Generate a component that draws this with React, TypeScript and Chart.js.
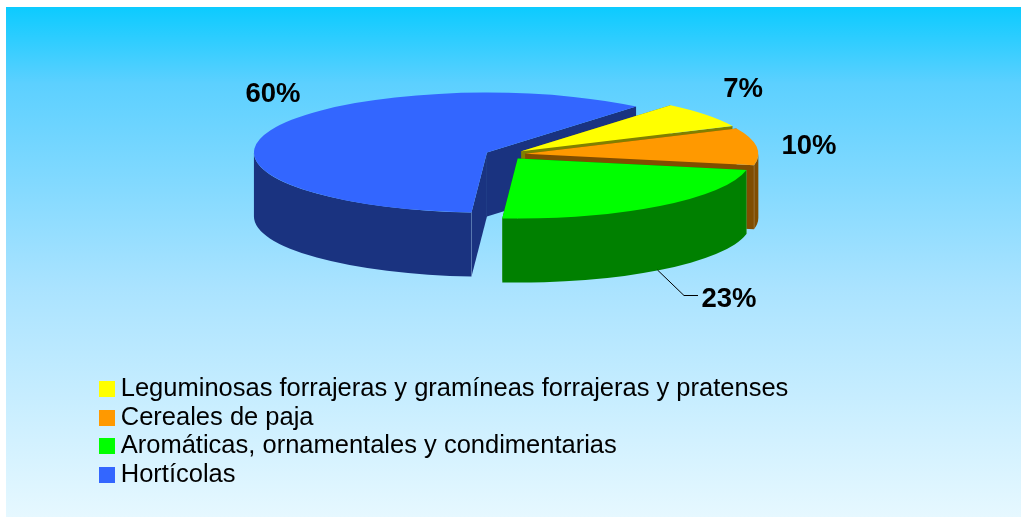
import React, { useEffect, useRef } from "react";
import { Chart, registerables } from "chart.js";

Chart.register(...registerables);

const categories = [
  "Leguminosas forrajeras y gramíneas forrajeras y pratenses",
  "Cereales de paja",
  "Aromáticas, ornamentales y condimentarias",
  "Hortícolas",
];
const shares = [7, 10, 23, 60];
const faceColors = ["#FFFF00", "#FF9900", "#00FF00", "#3366FF"];
const wallColors = ["#808000", "#804D00", "#008000", "#1A3380"];
const labelAnchors = [
  [743, 89],
  [809, 146],
  [729, 299],
  [273, 94],
];

const SQUASH = 60 / 233;
const DEPTH = 64;
const EXPLODE = 20;
const PAINT_ORDER = [3, 0, 1, 2];

// 16px square, right-aligned on a transparent 20px canvas so that the legend's
// gap between swatch and text matches the reference.
function legendSwatch(color: string) {
  const c = document.createElement("canvas");
  c.width = 20;
  c.height = 16;
  const g = c.getContext("2d")!;
  g.fillStyle = color;
  g.fillRect(4, 0, 16, 16);
  return c;
}

const pie3d = {
  id: "pie3d",
  beforeDraw(chart: any) {
    const { ctx } = chart;
    const grad = ctx.createLinearGradient(0, 7, 0, 517);
    grad.addColorStop(0, "#0CCBFF");
    grad.addColorStop(0.15, "#5CD0FF");
    grad.addColorStop(0.55, "#AAE3FF");
    grad.addColorStop(1, "#E6F8FF");
    ctx.save();
    ctx.fillStyle = grad;
    ctx.fillRect(6, 7, 1015, 510);
    ctx.restore();
  },
  afterLayout(chart: any) {
    const l = chart.legend;
    l.left = 98.83;
    l.right = 900;
    l.top = 373.08;
    l.bottom = 517;
  },
  beforeDatasetsDraw(chart: any) {
    const { ctx } = chart;
    const arcs = chart.getDatasetMeta(0).data;
    PAINT_ORDER.forEach((i) => {
      const arc = arcs[i];
      const { x, y, startAngle, endAngle, outerRadius: r } = arc;
      const mid = (startAngle + endAngle) / 2;
      const cx = x + Math.cos(mid) * EXPLODE;
      const cy = y + Math.sin(mid) * EXPLODE * SQUASH;
      const ry = r * SQUASH;
      const px = (t: number) => cx + r * Math.cos(t);
      const py = (t: number) => cy + ry * Math.sin(t);

      ctx.save();
      ctx.fillStyle = wallColors[i];
      [startAngle, endAngle].forEach((t: number) => {
        ctx.beginPath();
        ctx.moveTo(cx, cy);
        ctx.lineTo(px(t), py(t));
        ctx.lineTo(px(t), py(t) + DEPTH);
        ctx.lineTo(cx, cy + DEPTH);
        ctx.closePath();
        ctx.fill();
      });
      // outer wall: only the front half of the rim faces the viewer
      const TAU = Math.PI * 2;
      let a = startAngle;
      let b = endAngle;
      while (b < 0) {
        a += TAU;
        b += TAU;
      }
      const ranges = [
        [a, b],
        [a - TAU, b - TAU],
      ];
      ranges.forEach(([s, e]) => {
        const from = Math.max(s, 0);
        const to = Math.min(e, Math.PI);
        if (to <= from) return;
        ctx.beginPath();
        ctx.ellipse(cx, cy, r, ry, 0, from, to, false);
        ctx.ellipse(cx, cy + DEPTH, r, ry, 0, to, from, true);
        ctx.closePath();
        ctx.fill();
        // seams
        ctx.strokeStyle = "rgba(255,255,255,0.16)";
        ctx.lineWidth = 1;
        [from, to].forEach((t) => {
          if (t === 0 || t === Math.PI) return;
          ctx.beginPath();
          ctx.moveTo(px(t), py(t));
          ctx.lineTo(px(t), py(t) + DEPTH);
          ctx.stroke();
        });
      });
      ctx.restore();

      // top face: the library's own arc element under an elliptical transform
      ctx.save();
      ctx.translate(cx, cy);
      ctx.scale(1, SQUASH);
      ctx.translate(-x, -y);
      arc.draw(ctx);
      ctx.restore();
    });
    return false;
  },
  afterDraw(chart: any) {
    const { ctx } = chart;
    ctx.save();
    ctx.strokeStyle = "#000000";
    ctx.lineWidth = 1;
    ctx.beginPath();
    ctx.moveTo(657.5, 270);
    ctx.lineTo(684, 295.5);
    ctx.lineTo(698, 295.5);
    ctx.stroke();
    ctx.fillStyle = "#000000";
    ctx.font = 'bold 27.5px "Liberation Sans", Arial, sans-serif';
    ctx.textAlign = "center";
    ctx.textBaseline = "middle";
    shares.forEach((v, i) => {
      ctx.fillText(`${v}%`, labelAnchors[i][0], labelAnchors[i][1]);
    });
    ctx.restore();
  },
};

export default function App() {
  const ref = useRef<HTMLCanvasElement | null>(null);
  useEffect(() => {
    const chart = new Chart(ref.current!, {
      type: "pie",
      data: {
        labels: categories,
        datasets: [
          {
            data: shares,
            backgroundColor: faceColors,
            borderWidth: 0,
          },
        ],
      },
      options: {
        responsive: false,
        animation: false,
        rotation: 39.8,
        radius: 233,
        layout: { padding: { left: 0, right: 16, top: 0, bottom: 208 } },
        plugins: {
          tooltip: { enabled: false },
          legend: {
            display: true,
            position: "chartArea",
            align: "start",
            labels: {
              usePointStyle: true,
              boxWidth: 6,
              boxHeight: 16,
              padding: 3.17,
              color: "#000000",
              font: { family: '"Liberation Sans", Arial, sans-serif', size: 25.5 },
              generateLabels: () =>
                categories.map((text, i) => ({
                  text,
                  index: i,
                  fillStyle: faceColors[i],
                  strokeStyle: faceColors[i],
                  lineWidth: 0,
                  pointStyle: legendSwatch(faceColors[i]),
                })),
            },
          },
        },
      } as any,
      plugins: [pie3d as any],
    });
    return () => chart.destroy();
  }, []);
  return (
    <canvas
      ref={ref}
      width={1027}
      height={517}
      style={{ position: "absolute", left: 0, top: 0, display: "block" }}
    />
  );
}
